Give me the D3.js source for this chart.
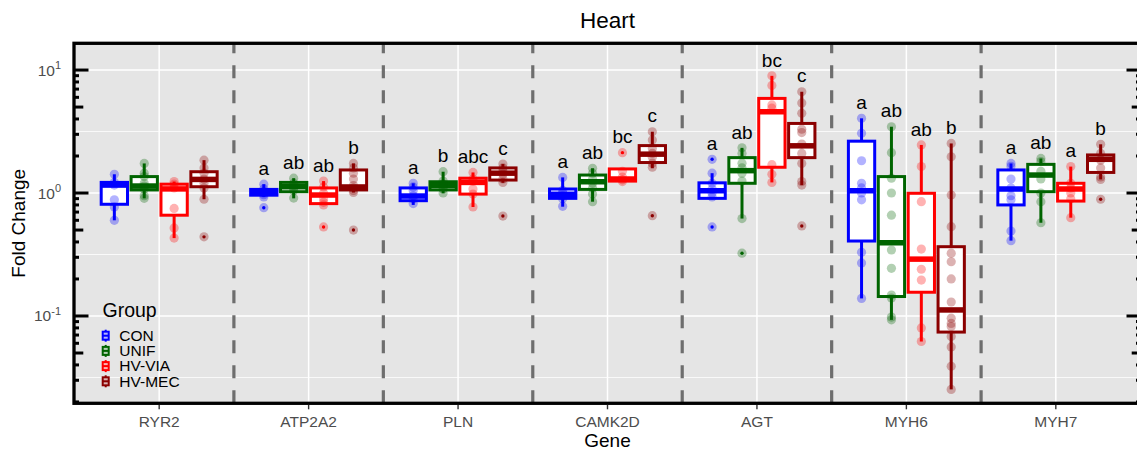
<!DOCTYPE html>
<html><head><meta charset="utf-8">
<script src="https://cdn.jsdelivr.net/npm/d3@7"></script>
<style>body{margin:0;background:#fff} svg{display:block} text{font-family:"Liberation Sans",Arial,sans-serif}</style>
</head><body><svg id="c" width="1137" height="451"></svg>
<script>
const genes = ["RYR2","ATP2A2","PLN","CAMK2D","AGT","MYH6","MYH7"];
const groups = ["CON","UNIF","HV-VIA","HV-MEC"];
const colors = ["#0000FF","#006400","#FF0000","#8B0000"];

// [lower whisker, Q1, median, Q3, upper whisker] per gene
const conStats = [[0.60,0.81,1.16,1.22,1.42],[0.93,0.96,1.01,1.07,1.18],[0.80,0.866,0.945,1.10,1.20],[0.774,0.905,0.976,1.078,1.34],[0.89,0.905,1.044,1.21,1.45],[0.139,0.407,1.044,2.64,4.05],[0.41,0.80,1.078,1.54,1.74]];
const unifStats = [[0.905,1.06,1.14,1.36,1.74],[0.905,1.025,1.125,1.22,1.32],[0.995,1.06,1.15,1.235,1.49],[0.85,1.07,1.235,1.40,1.59],[0.62,1.2,1.52,1.94,2.33],[0.093,0.144,0.394,1.36,3.46],[0.573,1.025,1.40,1.71,1.91]];
const viaStats = [[0.43,0.66,1.08,1.18,1.24],[0.80,0.82,0.963,1.10,1.25],[0.77,0.98,1.22,1.32,1.47],[1.24,1.25,1.30,1.57,1.57],[1.22,1.62,4.58,5.88,8.97],[0.062,0.156,0.29,0.995,2.46],[0.63,0.86,1.078,1.20,1.64]];
const mecStats = [[0.89,1.125,1.29,1.49,1.85],[1.01,1.06,1.12,1.54,1.74],[1.21,1.275,1.45,1.60,1.72],[1.59,1.77,2.07,2.43,3.15],[1.16,1.94,2.42,3.68,6.66],[0.0253,0.074,0.112,0.366,2.53],[1.29,1.47,1.88,2.04,2.49]];

const conOutliers = [[],[0.76],[],[],[1.88,0.53],[],[]];
const unifOutliers = [[],[],[],[],[0.324],[],[]];
const viaOutliers = [[],[0.53],[],[2.13],[],[],[]];
const mecOutliers = [[0.44],[0.50],[0.65],[0.654],[0.54],[],[0.89]];

const conPoints = [[1.42,1.22,1.16,0.88,0.77,0.60],[1.18,1.08,1.02,1.0,0.97,0.93,0.76],[1.20,1.12,1.05,0.95,0.90,0.82],[1.34,1.05,1.0,0.95,0.90,0.78],[1.88,1.45,1.2,1.08,1.0,0.93,0.53],[4.05,3.06,1.83,1.2,1.1,1.0,0.88,0.33,0.27,0.139],[1.74,1.65,1.3,1.1,0.95,0.88,0.49,0.41]];
const unifPoints = [[1.74,1.45,1.36,1.2,1.14,1.08,0.95,0.905],[1.32,1.2,1.15,1.1,1.05,0.91],[1.49,1.25,1.18,1.12,1.08,1.0],[1.59,1.45,1.3,1.2,1.1,0.98,0.85],[2.33,2.1,1.75,1.6,1.45,1.25,0.62,0.324],[3.46,2.13,1.32,1.0,0.66,0.344,0.244,0.148,0.14,0.098,0.093],[1.91,1.8,1.5,1.3,1.0,0.85,0.573]];
const viaPoints = [[1.24,1.18,1.1,0.75,0.52,0.43],[1.25,1.12,1.0,0.9,0.84,0.80,0.53],[1.47,1.3,1.25,1.08,0.98,0.77],[2.13,1.5,1.35,1.28,1.24],[8.97,7.5,5.2,4.9,1.7,1.42,1.22],[2.46,1.64,0.85,0.35,0.24,0.196,0.08,0.062],[1.64,1.2,1.1,1.0,0.9,0.63]];
const mecPoints = [[1.85,1.6,1.45,1.3,1.2,1.1,0.89,0.44],[1.74,1.6,1.45,1.3,1.15,1.1,1.05,1.01,0.50],[1.72,1.6,1.5,1.42,1.3,1.22,0.65],[3.15,2.7,2.3,2.1,1.95,1.75,1.62,0.654],[6.66,5.4,4.45,3.3,3.1,2.5,2.1,1.74,1.24,1.16,0.54],[2.53,1.97,0.963,0.532,0.324,0.276,0.2,0.13,0.096,0.087,0.082,0.068,0.056,0.039,0.0253],[2.49,2.1,1.85,1.6,1.35,1.29,0.89]];

const conLetters = ["","a","a","a","a","a","a"];
const unifLetters = ["","ab","b","ab","ab","ab","ab"];
const viaLetters = ["","ab","abc","bc","bc","ab","a"];
const mecLetters = ["","b","c","c","c","b","b"];

const yTicks = [0.1, 1, 10];
const yTickExp = ["-1","0","1"];

const stats = [conStats, unifStats, viaStats, mecStats];
const outs = [conOutliers, unifOutliers, viaOutliers, mecOutliers];
const pts = [conPoints, unifPoints, viaPoints, mecPoints];
const letters = [conLetters, unifLetters, viaLetters, mecLetters];

const svg = d3.select("#c");
const L = 74, R = 1141, T = 43.3, B = 403.3;
const x = d3.scalePoint().domain(genes).range([L, R]).padding(0.57);
const y = d3.scaleLog().domain([0.0195, 16.5]).range([B, T]);
const g = d3.scaleBand().domain(groups).range([-0.4 * x.step(), 0.4 * x.step()]);
const bw = g.bandwidth() * 0.88;

// panel
svg.append("rect").attr("x", L).attr("y", T).attr("width", R - L).attr("height", B - T).attr("fill", "#e5e5e5");
// minor grid
[-1.5, -0.5, 0.5].forEach(e => {
  svg.append("line").attr("x1", L).attr("x2", R).attr("y1", y(Math.pow(10, e))).attr("y2", y(Math.pow(10, e)))
    .attr("stroke", "#fff").attr("stroke-width", 0.8);
});
yTicks.forEach(v => {
  svg.append("line").attr("x1", L).attr("x2", R).attr("y1", y(v)).attr("y2", y(v)).attr("stroke", "#fff").attr("stroke-width", 1.5);
});
genes.forEach(gn => {
  svg.append("line").attr("x1", x(gn)).attr("x2", x(gn)).attr("y1", T).attr("y2", B).attr("stroke", "#fff").attr("stroke-width", 1.5);
});
// dashed separators
for (let i = 0; i < genes.length - 1; i++) {
  const xm = (x(genes[i]) + x(genes[i + 1])) / 2;
  svg.append("line").attr("x1", xm).attr("x2", xm).attr("y1", B).attr("y2", T)
    .attr("stroke", "#6e6e6e").attr("stroke-width", 3.2).attr("stroke-dasharray", "13,12");
}

// boxes
groups.forEach((grp, j) => {
  const col = colors[j];
  genes.forEach((gn, i) => {
    const [lo, q1, md, q3, hi] = stats[j][i];
    const cx = x(gn) + g(grp) + g.bandwidth() / 2;
    const G = svg.append("g");
    G.append("line").attr("x1", cx).attr("x2", cx).attr("y1", y(lo)).attr("y2", y(q1)).attr("stroke", col).attr("stroke-width", 3);
    G.append("line").attr("x1", cx).attr("x2", cx).attr("y1", y(q3)).attr("y2", y(hi)).attr("stroke", col).attr("stroke-width", 3);
    G.append("rect").attr("x", cx - bw / 2).attr("y", y(q3)).attr("width", bw).attr("height", Math.max(0.5, y(q1) - y(q3)))
      .attr("fill", "#fff").attr("stroke", col).attr("stroke-width", 3);
    G.append("line").attr("x1", cx - bw / 2).attr("x2", cx + bw / 2).attr("y1", y(md)).attr("y2", y(md)).attr("stroke", col).attr("stroke-width", 5.5);
    outs[j][i].forEach(v => {
      G.append("circle").attr("cx", cx).attr("cy", y(v)).attr("r", 1.7).attr("fill", col);
    });
  });
});
// points
groups.forEach((grp, j) => {
  const col = colors[j];
  genes.forEach((gn, i) => {
    const cx = x(gn) + g(grp) + g.bandwidth() / 2;
    pts[j][i].forEach(v => {
      svg.append("circle").attr("cx", cx).attr("cy", y(v)).attr("r", 4.6).attr("fill", col).attr("fill-opacity", 0.3);
    });
    if (letters[j][i]) {
      svg.append("text").attr("x", cx).attr("y", y(d3.max(pts[j][i]) * 1.19)).attr("text-anchor", "middle")
        .attr("font-size", 19).attr("fill", "#000").text(letters[j][i]);
    }
  });
});

// log ticks (both sides)
const lt = [];
for (let e = -2; e <= 1; e++) for (let m = 1; m <= 9; m++) {
  const v = m * Math.pow(10, e);
  if (v >= 0.0195 && v <= 16.5) lt.push({ v, len: m === 1 ? 14.5 : (m === 5 ? 9.3 : 5) });
}
lt.forEach(d => {
  svg.append("line").attr("x1", L).attr("x2", L + d.len).attr("y1", y(d.v)).attr("y2", y(d.v)).attr("stroke", "#000").attr("stroke-width", 3);
  svg.append("line").attr("x1", R).attr("x2", R - d.len).attr("y1", y(d.v)).attr("y2", y(d.v)).attr("stroke", "#000").attr("stroke-width", 3);
});

// border
svg.append("rect").attr("x", L).attr("y", T).attr("width", R - L).attr("height", B - T).attr("fill", "none").attr("stroke", "#000").attr("stroke-width", 3.3);

// y tick labels
yTicks.forEach((v, k) => {
  const t = svg.append("text").attr("x", 61).attr("y", y(v) + 5.5).attr("text-anchor", "end").attr("font-size", 15.5).attr("fill", "#4d4d4d");
  t.append("tspan").text("10");
  t.append("tspan").attr("dy", -6.5).attr("font-size", 11).text(yTickExp[k]);
});
// x ticks & labels
genes.forEach(gn => {
  svg.append("line").attr("x1", x(gn)).attr("x2", x(gn)).attr("y1", B + 1.6).attr("y2", B + 6).attr("stroke", "#333").attr("stroke-width", 1.4);
  svg.append("text").attr("x", x(gn)).attr("y", 427).attr("text-anchor", "middle").attr("font-size", 15.5).attr("fill", "#4d4d4d").text(gn);
});

// titles
svg.append("text").attr("x", (L + R) / 2).attr("y", 28).attr("text-anchor", "middle").attr("font-size", 22.5).attr("fill", "#000").text("Heart");
svg.append("text").attr("x", (L + R) / 2).attr("y", 447).attr("text-anchor", "middle").attr("font-size", 19).attr("fill", "#000").text("Gene");
svg.append("text").attr("transform", `translate(25,${(T + B) / 2}) rotate(-90)`).attr("text-anchor", "middle").attr("font-size", 19).attr("fill", "#000").text("Fold Change");

// legend
svg.append("text").attr("x", 102.5).attr("y", 317).attr("font-size", 19.5).attr("fill", "#000").text("Group");
groups.forEach((grp, j) => {
  const cy = 335.7 + j * 15.2, cx = 105.7, col = colors[j];
  svg.append("line").attr("x1", cx).attr("x2", cx).attr("y1", cy - 6).attr("y2", cy + 6).attr("stroke", col).attr("stroke-width", 2);
  svg.append("rect").attr("x", cx - 3).attr("y", cy - 4).attr("width", 6).attr("height", 8).attr("fill", "#fff").attr("stroke", col).attr("stroke-width", 2);
  svg.append("line").attr("x1", cx - 3).attr("x2", cx + 3).attr("y1", cy).attr("y2", cy).attr("stroke", col).attr("stroke-width", 2);
  svg.append("circle").attr("cx", cx).attr("cy", cy).attr("r", 3.5).attr("fill", col).attr("fill-opacity", 0.3);
  svg.append("text").attr("x", 119.3).attr("y", cy + 5.2).attr("font-size", 15.5).attr("fill", "#000").text(grp);
});
</script></body></html>
